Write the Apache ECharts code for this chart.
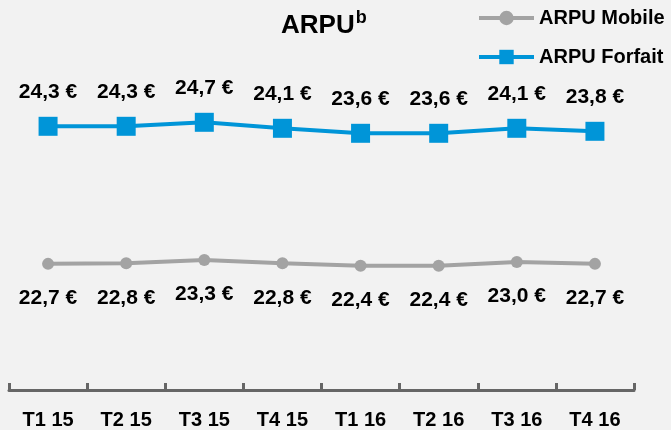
<!DOCTYPE html>
<html>
<head>
<meta charset="utf-8">
<script src="https://cdn.jsdelivr.net/npm/echarts@6/dist/echarts.min.js"></script>
<style>
html,body{margin:0;padding:0;background:#f2f2f2;}
#c{width:671px;height:430px;}
</style>
</head>
<body>
<div id="c"></div>
<script>
const categories = ['T1 15','T2 15','T3 15','T4 15','T1 16','T2 16','T3 16','T4 16'];
const arpuMobile = [22.7, 22.8, 23.3, 22.8, 22.4, 22.4, 23.0, 22.7];
const arpuForfait = [24.3, 24.3, 24.7, 24.1, 23.6, 23.6, 24.1, 23.8];
const seriesNames = ['ARPU Mobile', 'ARPU Forfait'];

const FONT = '"Liberation Sans", Arial, sans-serif';
const fmt = p => p.value.toFixed(1).replace('.', ',') + ' €';
const GRAY = '#a3a3a3', BLUE = '#0095d8';

const chart = echarts.init(document.getElementById('c'), null, {renderer:'canvas'});
chart.setOption({
  backgroundColor: '#f2f2f2',
  animation: false,
  title: {
    text: '{a|ARPU}{b|b}',
    left: 276, top: 4,
    textStyle: {
      rich: {
        a: {fontFamily: FONT, fontWeight: 'bold', fontSize: 26, color: '#000', lineHeight: 34},
        b: {fontFamily: FONT, fontWeight: 'bold', fontSize: 18, color: '#000', verticalAlign: 'top', lineHeight: 22, padding:[0,0,0,1]}
      }
    }
  },
  legend: {
    orient: 'vertical',
    left: 472, top: 3,
    itemWidth: 55, itemHeight: 18, itemGap: 19,
    textStyle: {fontFamily: FONT, fontWeight: 'bold', fontSize: 20, color: '#000'},
    data: [
      {name: seriesNames[0], lineStyle: {width: 4, color: GRAY}},
      {name: seriesNames[1], lineStyle: {width: 4, color: BLUE}}
    ]
  },
  grid: {left: 9, right: 37, top: 40, bottom: 40, containLabel: false},
  xAxis: {
    type: 'category',
    data: categories,
    boundaryGap: true,
    axisLine: {onZero: false, lineStyle: {color: '#666', width: 3}},
    axisTick: {show: true, inside: true, length: 7, lineStyle: {color: '#666', width: 3}},
    axisLabel: {fontFamily: FONT, fontWeight: 'bold', fontSize: 20, color: '#000', margin: 20}
  },
  yAxis: [
    {type: 'value', min: 2.7, max: 58.2, show: false, splitLine: {show: false}},
    {type: 'value', min: -2.07, max: 32.93, show: false, splitLine: {show: false}}
  ],
  series: [
    {
      name: seriesNames[0], type: 'line', yAxisIndex: 0,
      data: arpuMobile,
      symbol: 'circle', symbolSize: 12,
      lineStyle: {color: GRAY, width: 4},
      itemStyle: {color: GRAY},
      label: {show: true, position: 'bottom', distance: 18, formatter: fmt,
        fontFamily: FONT, fontWeight: 'bold', fontSize: 21, color: '#000'}
    },
    {
      name: seriesNames[1], type: 'line', yAxisIndex: 1,
      data: arpuForfait,
      symbol: 'rect', symbolSize: 19,
      lineStyle: {color: BLUE, width: 4},
      itemStyle: {color: BLUE},
      label: {show: true, position: 'top', distance: 14, formatter: fmt,
        fontFamily: FONT, fontWeight: 'bold', fontSize: 21, color: '#000'}
    }
  ]
});
</script>
</body>
</html>
